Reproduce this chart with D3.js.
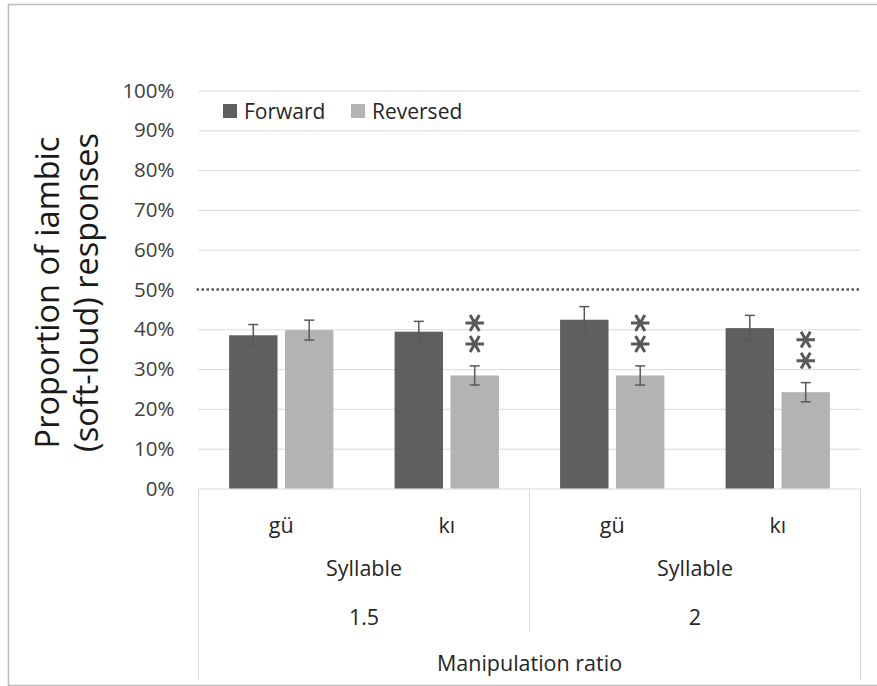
<!DOCTYPE html>
<html>
<head>
<meta charset="utf-8">
<script src="https://cdn.jsdelivr.net/npm/d3@7"></script>
<style>
  html, body { margin: 0; padding: 0; background: #fff; }
  svg { display: block; font-family: "Open Sans", "Noto Sans", sans-serif; }
</style>
</head>
<body>
<svg id="chart" width="877" height="686"></svg>
<script>
// Proportion of iambic responses per syllable and manipulation ratio
const ratios = ["1.5", "2"];
const syllables = ["gü", "kı"];
const series = ["Forward", "Reversed"];
const forwardValues = [0.385, 0.394, 0.424, 0.403];
const reversedValues = [0.398, 0.284, 0.284, 0.242];
const forwardErrors = [0.027, 0.026, 0.033, 0.032];
const reversedErrors = [0.025, 0.024, 0.024, 0.024];
const significance = [0, 2, 2, 2]; // number of stars above the reversed bar
const yTicks = [0, 0.1, 0.2, 0.3, 0.4, 0.5, 0.6, 0.7, 0.8, 0.9, 1.0];
const chanceLevel = 0.5;
const colors = { Forward: "#5f5f5f", Reversed: "#b3b3b3" };

const categories = [];
ratios.forEach(r => syllables.forEach(s => categories.push({ ratio: r, syllable: s, key: r + "|" + s })));
const rows = categories.map((c, i) => ({
  ...c,
  Forward: forwardValues[i], Reversed: reversedValues[i],
  ForwardErr: forwardErrors[i], ReversedErr: reversedErrors[i],
  stars: significance[i]
}));

const svg = d3.select("#chart");
const plot = { left: 198.5, right: 860.5, top: 90.5, bottom: 488.5 };

// outer frame
svg.append("path")
  .attr("d", `M879,4.5 H8.5 V685.5 H879`)
  .attr("fill", "none").attr("stroke", "#bdbdbd").attr("stroke-width", 1.5);

const y = d3.scaleLinear().domain([0, 1]).range([plot.bottom, plot.top]);
const x0 = d3.scaleBand().domain(rows.map(d => d.key)).range([plot.left, plot.right]).padding(0);
const x1 = d3.scaleBand().domain(series).range([0, x0.bandwidth()]).paddingInner(0.134).paddingOuter(0.547);

// horizontal gridlines
const yAxis = d3.axisLeft(y).tickValues(yTicks).tickFormat(d3.format(".0%"))
  .tickSize(-(plot.right - plot.left)).tickPadding(24);
const gy = svg.append("g").attr("transform", `translate(${plot.left},0)`).call(yAxis);
gy.select(".domain").remove();
gy.selectAll(".tick line")
  .attr("stroke", "#d9d9d9").attr("stroke-width", 1)
  .attr("display", d => d === chanceLevel ? "none" : null);
gy.selectAll(".tick text")
  .attr("fill", "#404040").attr("font-size", 20.5)
  .attr("font-family", "'Open Sans', sans-serif");

// category box below the axis
const boxBottom = 680.5;
const midX = x0(rows[2].key);
const box = svg.append("g").attr("stroke", "#d9d9d9").attr("stroke-width", 1).attr("fill", "none");
box.append("line").attr("x1", plot.left).attr("x2", plot.left).attr("y1", plot.bottom).attr("y2", boxBottom);
box.append("line").attr("x1", plot.right).attr("x2", plot.right).attr("y1", plot.bottom).attr("y2", boxBottom);
box.append("line").attr("x1", midX).attr("x2", midX).attr("y1", plot.bottom).attr("y2", 632);

// bars
const groups = svg.append("g").selectAll("g").data(rows).join("g")
  .attr("transform", d => `translate(${x0(d.key)},0)`);
groups.selectAll("rect").data(d => series.map(s => ({ s, v: d[s] }))).join("rect")
  .attr("x", d => x1(d.s)).attr("width", x1.bandwidth())
  .attr("y", d => y(d.v)).attr("height", d => y(0) - y(d.v))
  .attr("fill", d => colors[d.s]);

// error bars
const eb = groups.selectAll("g.err").data(d => series.map(s => ({ s, v: d[s], e: d[s + "Err"] }))).join("g")
  .attr("class", "err").attr("stroke", "#595959").attr("stroke-width", 1.5);
const cx = d => x1(d.s) + x1.bandwidth() / 2;
eb.append("line").attr("x1", cx).attr("x2", cx).attr("y1", d => y(d.v + d.e)).attr("y2", d => y(d.v - d.e));
eb.append("line").attr("x1", d => cx(d) - 5).attr("x2", d => cx(d) + 5).attr("y1", d => y(d.v + d.e)).attr("y2", d => y(d.v + d.e));
eb.append("line").attr("x1", d => cx(d) - 5).attr("x2", d => cx(d) + 5).attr("y1", d => y(d.v - d.e)).attr("y2", d => y(d.v - d.e));

// significance stars above the reversed bars
const star = d3.symbol().type(d3.symbolAsterisk).size(240);
groups.filter(d => d.stars > 0).each(function (d) {
  const top = y(d.Reversed + d.ReversedErr);
  const xc = x1("Reversed") + x1.bandwidth() / 2;
  d3.select(this).selectAll("path.star").data(d3.range(d.stars)).join("path")
    .attr("class", "star")
    .attr("d", star)
    .attr("transform", i => `translate(${xc},${top - 22 - i * 21}) rotate(90)`)
    .attr("fill", "none").attr("stroke", "#595959").attr("stroke-width", 3)
    .attr("stroke-linecap", "butt");
});

// chance-level reference line
svg.append("line")
  .attr("x1", plot.left - 2).attr("x2", plot.right)
  .attr("y1", y(chanceLevel)).attr("y2", y(chanceLevel))
  .attr("stroke", "#595959").attr("stroke-width", 2.5).attr("stroke-dasharray", "2.5,2.5");

// category labels
const labelColor = "#262626";
const labelSize = 21.5;
svg.append("g").selectAll("text").data(rows).join("text")
  .attr("x", d => x0(d.key) + x0.bandwidth() / 2).attr("y", 533)
  .attr("text-anchor", "middle").attr("font-size", labelSize).attr("fill", labelColor)
  .text(d => d.syllable);
ratios.forEach(r => {
  const members = rows.filter(d => d.ratio === r);
  const cxr = (x0(members[0].key) + x0(members[members.length - 1].key) + x0.bandwidth()) / 2;
  svg.append("text").attr("x", cxr).attr("y", 576).attr("text-anchor", "middle")
    .attr("font-size", labelSize).attr("fill", labelColor).text("Syllable");
  svg.append("text").attr("x", cxr).attr("y", 625).attr("text-anchor", "middle")
    .attr("font-size", labelSize).attr("fill", labelColor).text(r);
});
svg.append("text").attr("x", (plot.left + plot.right) / 2).attr("y", 671)
  .attr("text-anchor", "middle").attr("font-size", labelSize).attr("fill", labelColor)
  .text("Manipulation ratio");

// y-axis title
const yTitle = svg.append("text")
  .attr("transform", `translate(0,${(plot.top + plot.bottom) / 2 + 3}) rotate(-90)`)
  .attr("text-anchor", "middle").attr("font-size", 32.5).attr("fill", "#1a1a1a");
yTitle.append("tspan").attr("x", 0).attr("y", 59).text("Proportion of iambic");
yTitle.append("tspan").attr("x", 0).attr("y", 98).text("(soft-loud) responses");

// legend
const legend = svg.append("g").attr("transform", "translate(223,104)");
const items = legend.selectAll("g").data(series).join("g")
  .attr("transform", (d, i) => `translate(${i * 128},0)`);
items.append("rect").attr("width", 14).attr("height", 14).attr("fill", d => colors[d]);
items.append("text").attr("x", 21).attr("y", 15).attr("font-size", 21).attr("fill", "#262626").text(d => d);
</script>
</body>
</html>
